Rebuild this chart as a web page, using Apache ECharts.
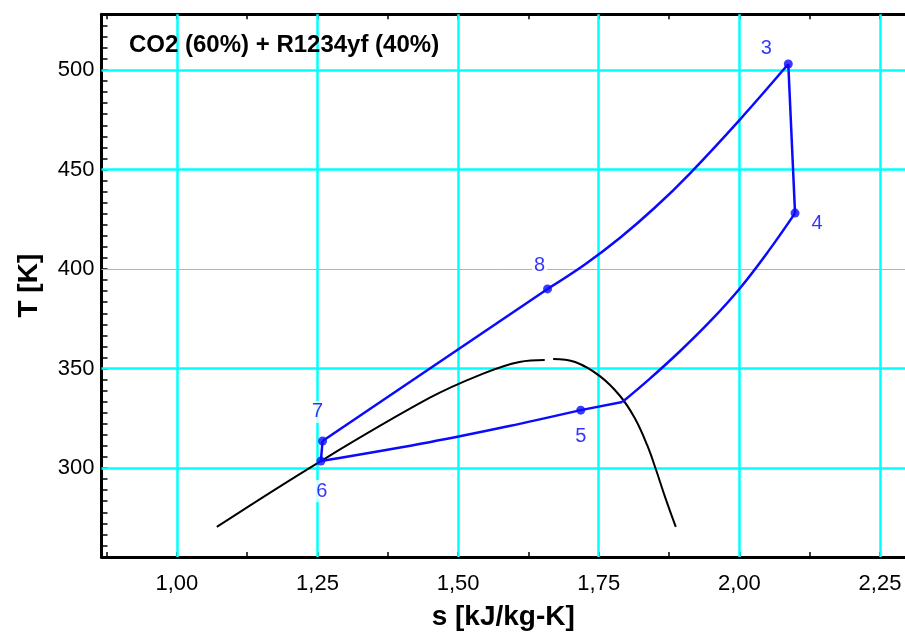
<!DOCTYPE html>
<html>
<head>
<meta charset="utf-8">
<script src="https://cdn.jsdelivr.net/npm/echarts@6/dist/echarts.min.js"></script>
<style>
  html, body { margin: 0; padding: 0; background: #fff; }
  #chart { width: 905px; height: 635px; }
</style>
</head>
<body>
<div id="chart"></div>
<script>
// state points of the cycle
const pointNames = ['3', '4', '5', '6', '7', '8']
const pointS = [2.087, 2.099, 1.718, 1.256, 1.259, 1.659]
const pointT = [503, 428.1, 329.1, 303.5, 313.6, 390]

// process paths (s [kJ/kg-K], T [K])
const path34S = [2.087, 2.099]
const path34T = [503, 428.1]
const path4kS = [2.099, 2.053, 2.000, 1.947, 1.893, 1.840, 1.792]
const path4kT = [428.1, 409.5, 390.0, 373.4, 358.3, 344.7, 333.2]
const pathk5S = [1.792, 1.718]
const pathk5T = [333.2, 329.1]
const path56S = [1.718, 1.591, 1.449, 1.256]
const path56T = [329.1, 321.1, 313.0, 303.5]
const path67S = [1.256, 1.259]
const path67T = [303.5, 313.6]
const path78S = [1.259, 1.659]
const path78T = [313.6, 390]
const path83S = [1.659, 1.726, 1.788, 1.850, 1.912, 2.001, 2.087]
const path83T = [390, 402.4, 415.7, 430.9, 448.0, 475.1, 503]

// saturation dome
const domeLeftS = [1.071, 1.256, 1.449, 1.538, 1.609, 1.654]
const domeLeftT = [270.4, 303.5, 335.2, 346.7, 353.3, 354.3]
const domeRightS = [1.669, 1.708, 1.752, 1.788, 1.814, 1.836, 1.852, 1.868, 1.887]
const domeRightT = [354.8, 353.3, 346.2, 336.2, 325.1, 311.6, 299.0, 285.4, 270.4]

// axes
const xTicks = [1.00, 1.25, 1.50, 1.75, 2.00, 2.25]
const yTicks = [300, 350, 400, 450, 500]
const xRange = [0.866, 2.2945]
const yRange = [255.3, 528]

const FONT = 'Liberation Sans, Arial, sans-serif'
const BLUE = '#0a0aff'

function zip (a, b) {
  return a.map((v, i) => [v, b[i]])
}

// minor ticks: x halves, y ninths of the 50 K step
const xMinor = []
for (let v = xTicks[0] - 0.125; v < xRange[1]; v += 0.25) xMinor.push(+v.toFixed(4))
const yMinor = []
for (let k = -8; k <= 40; k++) {
  const v = yTicks[0] + k * 50 / 9
  if (v > yRange[0] && v < yRange[1]) yMinor.push(+v.toFixed(3))
}

const labelOffset = {
  '3': [-22, -16], '4': [22, 10], '5': [0, 26], '6': [1, 30], '7': [-5, -29], '8': [-8, -23]
}

function pathSeries (s, t, smooth) {
  return {
    type: 'line',
    data: zip(s, t),
    smooth: smooth,
    showSymbol: false,
    symbol: 'none',
    lineStyle: { color: BLUE, width: 2.5 },
    z: 4,
    silent: true
  }
}

const gridLines = []
xTicks.forEach(v => gridLines.push({ xAxis: v, lineStyle: { color: '#00ffff', width: 2.5, type: 'solid' } }))
yTicks.forEach(v => gridLines.push({ yAxis: v, lineStyle: { color: '#00ffff', width: v === 400 ? 1 : 2.5, type: 'solid' } }))

const option = {
  animation: false,
  textStyle: { fontFamily: FONT },
  title: {
    text: 'CO2 (60%) + R1234yf (40%)',
    left: 129,
    top: 33,
    padding: 0,
    textStyle: { fontFamily: FONT, fontSize: 24, fontWeight: 'bold', color: '#000' }
  },
  grid: { left: 101.5, right: 0, top: 14.3, bottom: 78, containLabel: false, outerBoundsMode: 'none' },
  xAxis: [
    {
      type: 'value',
      position: 'bottom',
      min: xRange[0],
      max: xRange[1],
      name: 's [kJ/kg-K]',
      nameLocation: 'middle',
      nameGap: 46,
      nameTextStyle: { fontFamily: FONT, fontSize: 28, fontWeight: 'bold', color: '#000' },
      axisLine: { show: true, lineStyle: { color: '#000', width: 3 } },
      axisTick: { show: true, inside: true, length: 5, customValues: xMinor.concat(xTicks), lineStyle: { color: '#000', width: 1.5 } },
      axisLabel: {
        customValues: xTicks,
        margin: 16,
        fontSize: 22,
        color: '#000',
        fontFamily: FONT,
        formatter: v => v.toFixed(2).replace('.', ',')
      },
      splitLine: { show: false }
    },
    {
      type: 'value',
      position: 'top',
      min: xRange[0],
      max: xRange[1],
      axisLine: { show: true, lineStyle: { color: '#000', width: 3 } },
      axisTick: { show: true, inside: true, length: 5, customValues: xMinor.concat(xTicks), lineStyle: { color: '#000', width: 1.5 } },
      axisLabel: { show: false },
      splitLine: { show: false }
    }
  ],
  yAxis: {
    type: 'value',
    min: yRange[0],
    max: yRange[1],
    name: 'T [K]',
    nameLocation: 'middle',
    nameGap: 58,
    nameRotate: 90,
    nameTextStyle: { fontFamily: FONT, fontSize: 28, fontWeight: 'bold', color: '#000' },
    axisLine: { show: true, lineStyle: { color: '#000', width: 3 } },
    axisTick: { show: true, inside: true, length: 6, customValues: yMinor, lineStyle: { color: '#000', width: 1.5 } },
    axisLabel: { customValues: yTicks, margin: 7, fontSize: 22, color: '#000', fontFamily: FONT },
    splitLine: { show: false }
  },
  series: [
    {
      // saturation dome, also carries the grid lines
      type: 'line',
      data: zip(domeLeftS, domeLeftT),
      smooth: 0.4,
      showSymbol: false,
      symbol: 'none',
      lineStyle: { color: '#000', width: 2 },
      z: 3,
      silent: true,
      markLine: {
        silent: true,
        symbol: 'none',
        label: { show: false },
        animation: false,
        z: 1,
        data: gridLines
      }
    },
    {
      type: 'line',
      data: zip(domeRightS, domeRightT),
      smooth: 0.4,
      showSymbol: false,
      symbol: 'none',
      lineStyle: { color: '#000', width: 2 },
      z: 3,
      silent: true
    },
    pathSeries(path34S, path34T, false),
    pathSeries(path4kS, path4kT, 0.4),
    pathSeries(pathk5S, pathk5T, false),
    pathSeries(path56S, path56T, 0.3),
    pathSeries(path67S, path67T, false),
    pathSeries(path78S, path78T, false),
    pathSeries(path83S, path83T, 0.4),
    {
      type: 'scatter',
      symbolSize: 9,
      itemStyle: { color: BLUE },
      z: 6,
      data: pointNames.map((n, i) => ({
        value: [pointS[i], pointT[i]],
        name: n,
        label: {
          show: true,
          position: 'inside',
          offset: labelOffset[n],
          formatter: n,
          color: '#0000ff',
          fontSize: 20,
          fontFamily: FONT,
          backgroundColor: '#fff',
          padding: [1, 2]
        }
      }))
    }
  ]
}

const chart = echarts.init(document.getElementById('chart'))
chart.setOption(option)
</script>
</body>
</html>
